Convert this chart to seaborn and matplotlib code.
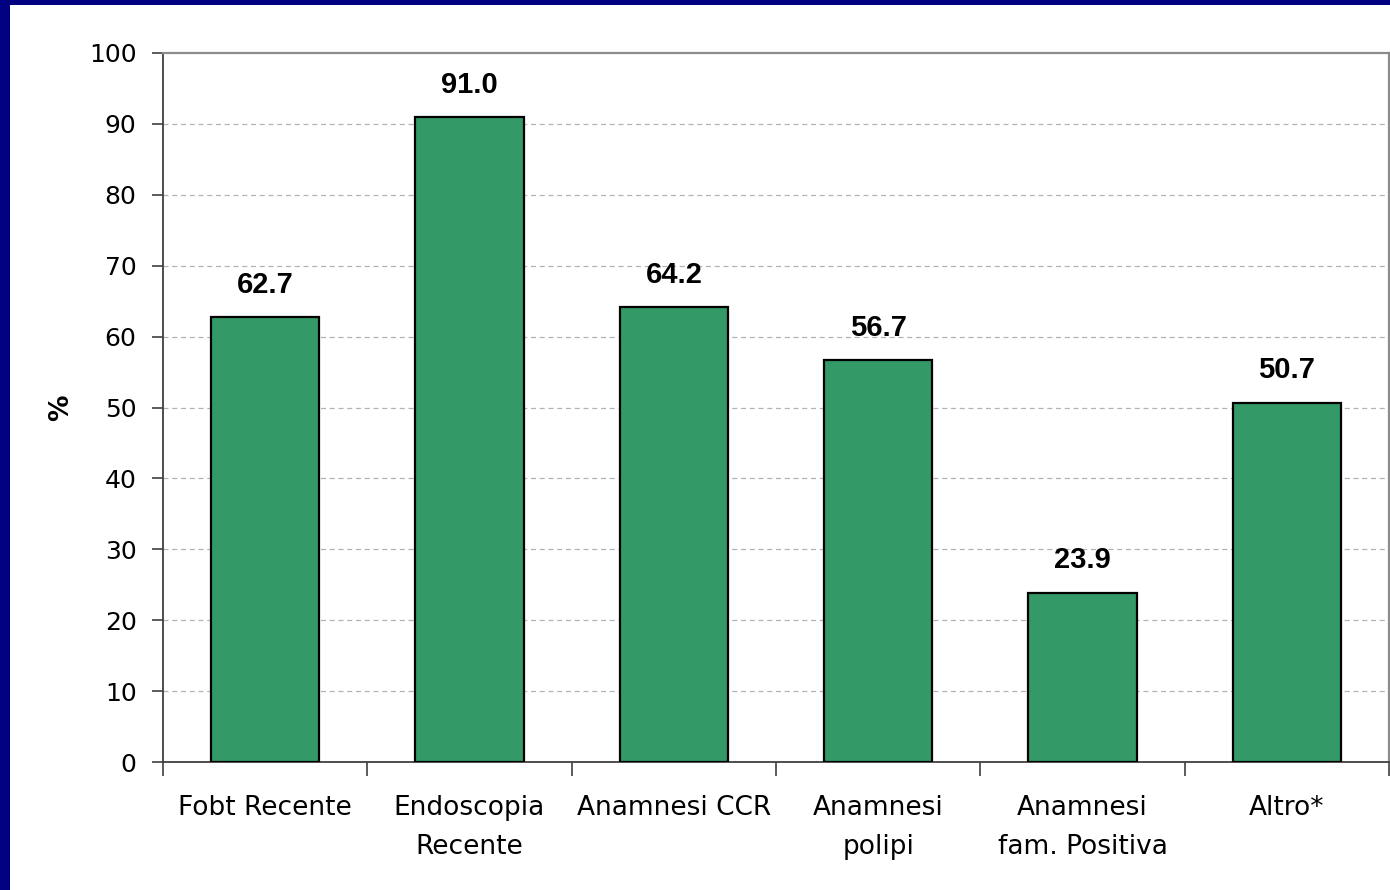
import matplotlib
matplotlib.use("Agg")
import matplotlib.pyplot as plt
import seaborn as sns
import pandas as pd
import numpy as np
from matplotlib.patches import Rectangle

# Categories and percentages
categories = ["Fobt Recente", "Endoscopia\nRecente", "Anamnesi CCR",
              "Anamnesi\npolipi", "Anamnesi\nfam. Positiva", "Altro*"]
values = [62.7, 91.0, 64.2, 56.7, 23.9, 50.7]
y_ticks = [0, 10, 20, 30, 40, 50, 60, 70, 80, 90, 100]

df = pd.DataFrame({"categoria": categories, "pct": values})

sns.set_theme(style="white")
plt.rcParams["font.family"] = ["DejaVu Sans"]

fig = plt.figure(figsize=(13.9, 8.9), dpi=100)
fig.patch.set_facecolor("white")

# Navy frame on the left and top edges
fig.patches.append(Rectangle((0, 0), 10 / 1390, 1, transform=fig.transFigure,
                             facecolor="#000080", edgecolor="none", zorder=0))
fig.patches.append(Rectangle((0, 1 - 5 / 890), 1, 5 / 890, transform=fig.transFigure,
                             facecolor="#000080", edgecolor="none", zorder=0))

ax = fig.add_axes([163 / 1390, 1 - 762 / 890, (1389 - 163) / 1390, (762 - 53) / 890])

sns.barplot(data=df, x="categoria", y="pct", color="#339966", saturation=1,
            edgecolor="black", linewidth=1.6, width=0.53, ax=ax, zorder=3)

ax.set_xlim(-0.5, len(categories) - 0.5)
ax.set_ylim(0, 100)
ax.set_yticks(y_ticks)
ax.set_yticklabels([str(t) for t in y_ticks], fontsize=18)

# Dashed horizontal gridlines
for t in y_ticks[1:-1]:
    ax.axhline(t, color="#b3b3b3", linestyle=(0, (4, 3)), linewidth=0.9, zorder=1)

# Spines
for side in ["top", "right"]:
    ax.spines[side].set_visible(True)
    ax.spines[side].set_color("#8c8c8c")
    ax.spines[side].set_linewidth(1.6)
for side in ["left", "bottom"]:
    ax.spines[side].set_color("#404040")
    ax.spines[side].set_linewidth(1.3)

# Y ticks outward
ax.tick_params(axis="y", direction="out", length=8, width=1.2, color="#404040",
               pad=11, left=True, labelcolor="black")

# X: labels at bar centres, tick marks at category boundaries
ax.set_xticks(range(len(categories)))
ax.set_xticklabels(categories, fontsize=19, linespacing=1.65)
ax.tick_params(axis="x", which="major", length=0, pad=24, labelcolor="black")
ax.set_xticks(np.arange(-0.5, len(categories)), minor=True)
ax.tick_params(axis="x", which="minor", direction="out", length=10, width=1.2,
               color="#404040", bottom=True)

ax.set_xlabel("")
ax.set_ylabel("%", fontsize=19, fontweight="bold", color="black")
ax.yaxis.set_label_coords((74 - 163) / 1226, 0.5)

# Value labels above the bars
for i, v in enumerate(values):
    ax.annotate(f"{v:.1f}", xy=(i, v), xytext=(0, 13), textcoords="offset points",
                ha="center", va="bottom", fontsize=21, fontweight="bold",
                family="Liberation Sans", color="black")

fig.savefig("out.png", dpi=100, facecolor=fig.get_facecolor())
